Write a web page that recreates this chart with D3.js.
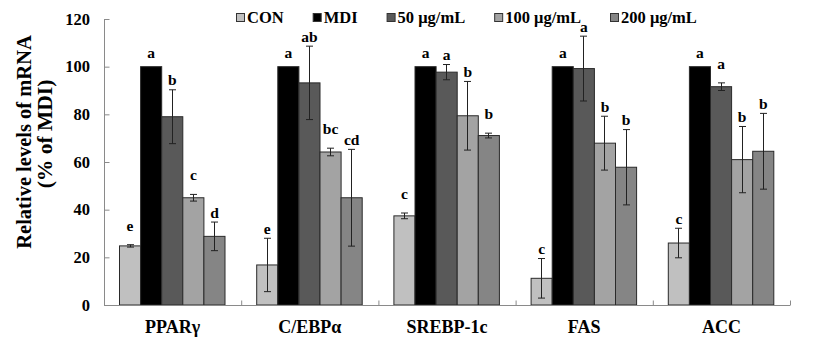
<!DOCTYPE html>
<html><head><meta charset="utf-8">
<script src="https://cdn.jsdelivr.net/npm/d3@7"></script>
<style>
html,body{margin:0;padding:0;background:#fff;}
</style></head>
<body>
<svg id="chart" width="827" height="346"></svg>
<script>
const categories = ["PPARγ","C/EBPα","SREBP-1c","FAS","ACC"];
const seriesNames = ["CON","MDI","50 μg/mL","100 μg/mL","200 μg/mL"];
const conValues  = [24.8, 16.8, 37.4, 11.2, 26.0];
const conErrors  = [0.5, 11.2, 1.2, 8.3, 6.2];
const conLetters = ["e","e","c","c","c"];
const mdiValues  = [100, 100, 100, 100, 100];
const mdiErrors  = [0, 0, 0, 0, 0];
const mdiLetters = ["a","a","a","a","a"];
const d50Values  = [79.0, 93.2, 97.7, 99.2, 91.6];
const d50Errors  = [11.3, 15.4, 3.2, 13.6, 1.6];
const d50Letters = ["b","ab","a","a","a"];
const d100Values = [45.0, 64.2, 79.4, 67.9, 61.0];
const d100Errors = [1.4, 1.6, 14.4, 11.3, 13.9];
const d100Letters= ["c","bc","b","b","b"];
const d200Values = [28.8, 45.0, 71.1, 57.8, 64.5];
const d200Errors = [6.0, 20.3, 1.0, 15.8, 15.9];
const d200Letters= ["d","cd","b","b","b"];
const yTicks = [0, 20, 40, 60, 80, 100, 120];
const yTitleLines = ["Relative levels of mRNA", "(% of MDI)"];

const seriesValues = [conValues, mdiValues, d50Values, d100Values, d200Values];
const seriesErrors = [conErrors, mdiErrors, d50Errors, d100Errors, d200Errors];
const seriesLetters = [conLetters, mdiLetters, d50Letters, d100Letters, d200Letters];
const colors = ["#c0c0c0", "#000000", "#595959", "#a3a3a3", "#858585"];

const svg = d3.select("#chart");
const FONT = "'Liberation Serif', 'Times New Roman', Tinos, serif";
const x0 = d3.scaleBand().domain(categories).range([104, 790]).padding(0);
const x1 = d3.scaleBand().domain(seriesNames).range([15, 120.5]).padding(0);
const y = d3.scaleLinear().domain([0, 120]).range([305, 19]);
const color = d3.scaleOrdinal().domain(seriesNames).range(colors);

function txt(sel) {
  return sel.attr("font-family", FONT).attr("font-weight", "bold").attr("fill", "#000");
}

const rows = [];
categories.forEach((c, i) => {
  seriesNames.forEach((s, j) => {
    rows.push({cat: c, ser: s, v: seriesValues[j][i], e: seriesErrors[j][i], l: seriesLetters[j][i]});
  });
});

// bars
svg.append("g").selectAll("rect").data(rows).join("rect")
  .attr("x", d => x0(d.cat) + x1(d.ser) + 0.5)
  .attr("y", d => y(d.v))
  .attr("width", x1.bandwidth())
  .attr("height", d => y(0) - y(d.v))
  .attr("fill", d => color(d.ser))
  .attr("stroke", "#2a2a2a").attr("stroke-width", 1);

// error bars
const eb = svg.append("g").attr("stroke", "#222").attr("stroke-width", 1);
rows.filter(d => d.e > 0).forEach(d => {
  const cx = Math.round(x0(d.cat) + x1(d.ser) + x1.bandwidth() / 2) + 0.5;
  eb.append("line").attr("x1", cx).attr("x2", cx).attr("y1", y(d.v + d.e)).attr("y2", y(d.v - d.e));
  eb.append("line").attr("x1", cx - 3.5).attr("x2", cx + 3.5).attr("y1", y(d.v + d.e)).attr("y2", y(d.v + d.e));
  eb.append("line").attr("x1", cx - 3.5).attr("x2", cx + 3.5).attr("y1", y(d.v - d.e)).attr("y2", y(d.v - d.e));
});

// significance letters
svg.append("g").selectAll("text").data(rows).join("text")
  .attr("x", d => x0(d.cat) + x1(d.ser) + x1.bandwidth() / 2 + 0.5)
  .attr("y", d => y(d.v + d.e) - (d.e === 0 ? 9 : d.e < 2.5 ? 14 : 4.5))
  .attr("text-anchor", "middle")
  .attr("font-size", 15.5)
  .call(txt)
  .text(d => d.l);

// axes
const axisColor = "#8a8a8a";
const yAxis = svg.append("g").attr("transform", "translate(104.5,0)")
  .call(d3.axisRight(y).tickValues(yTicks).tickSize(5).tickFormat(""));
yAxis.selectAll("path,line").attr("stroke", axisColor);
yAxis.select(".domain").attr("d", `M0,${y(120)}V${y(0)}`);

svg.append("g").selectAll("text").data(yTicks).join("text")
  .attr("x", 90).attr("y", d => y(d)).attr("dy", "0.35em")
  .attr("text-anchor", "end").attr("font-size", 16.5)
  .call(txt)
  .text(d => d);

const xAxis = svg.append("g").attr("transform", "translate(0,305.5)");
xAxis.append("line").attr("x1", 104).attr("x2", 790).attr("stroke", axisColor);
xAxis.selectAll("line.t").data(categories.concat(["end"])).join("line").attr("class", "t")
  .attr("x1", (d, i) => i < categories.length ? x0(d) + 0.5 : x0.range()[1] + 0.5)
  .attr("x2", (d, i) => i < categories.length ? x0(d) + 0.5 : x0.range()[1] + 0.5)
  .attr("y1", 0).attr("y2", -5).attr("stroke", axisColor);

svg.append("g").selectAll("text").data(categories).join("text")
  .attr("x", d => x0(d) + x0.bandwidth() / 2).attr("y", 333)
  .attr("text-anchor", "middle").attr("font-size", 18)
  .call(txt)
  .text(d => d);

// y title
svg.append("text").attr("transform", "translate(31,142) rotate(-90)")
  .attr("text-anchor", "middle").attr("font-size", 20.5).call(txt).text(yTitleLines[0]);
svg.append("text").attr("transform", "translate(52,134) rotate(-90)")
  .attr("text-anchor", "middle").attr("font-size", 21.5)
  .call(txt).text(yTitleLines[1]);

// legend
const lg = svg.append("g");
let lx = 236;
seriesNames.forEach((s, j) => {
  lg.append("rect").attr("x", lx + 0.5).attr("y", 13.5).attr("width", 8).attr("height", 8)
    .attr("fill", colors[j]).attr("stroke", "#333").attr("stroke-width", 1);
  const t = lg.append("text").attr("x", lx + 11).attr("y", 23).attr("font-size", 16.5).call(txt).text(s);
  lx += 11 + t.node().getComputedTextLength() + 29;
});
</script>
</body></html>
